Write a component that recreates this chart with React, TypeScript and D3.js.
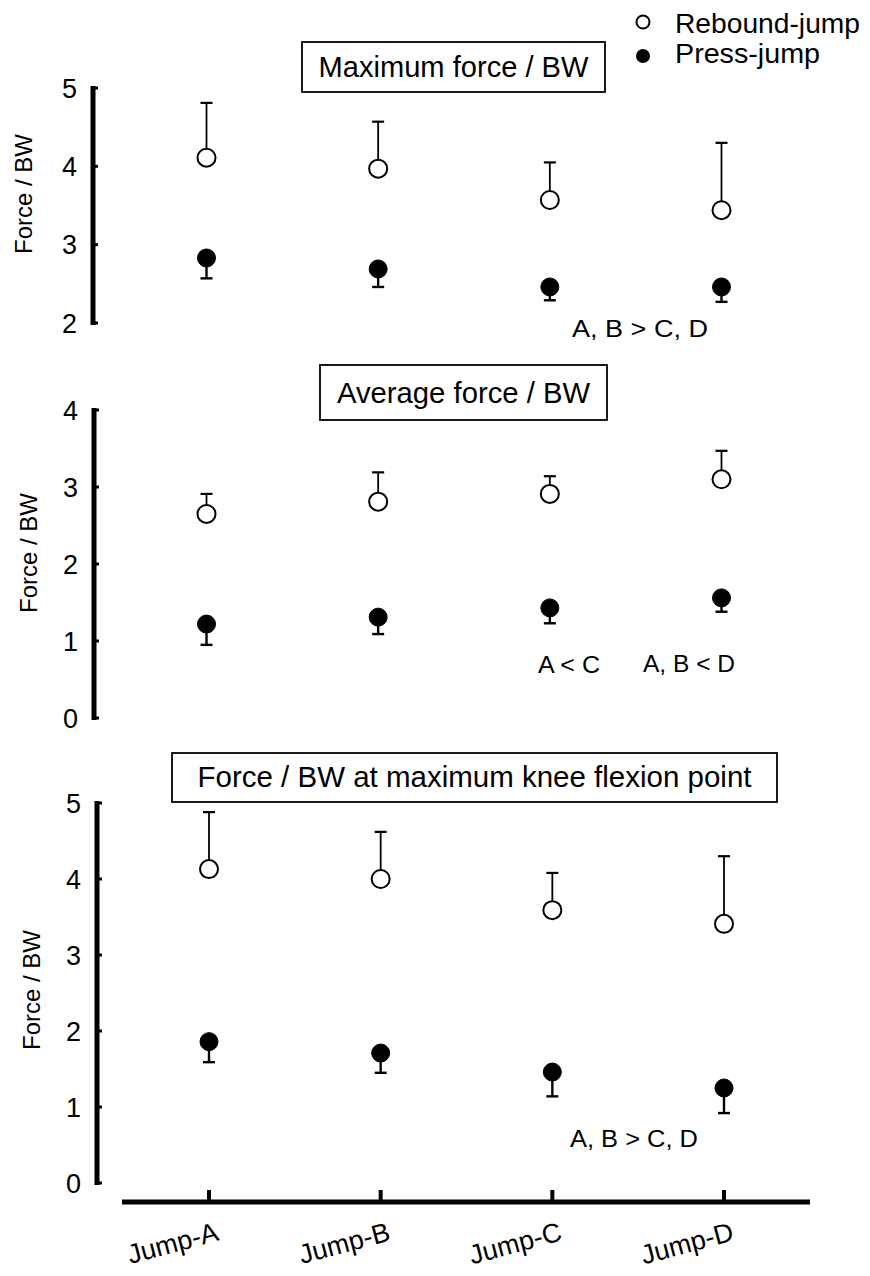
import React from "react";
import * as d3 from "d3";

const categories = ["Jump-A", "Jump-B", "Jump-C", "Jump-D"];

// Panel 1: Maximum force / BW
const maxReboundMean = [4.11, 3.97, 3.57, 3.44];
const maxReboundSD = [0.7, 0.6, 0.48, 0.86];
const maxPressMean = [2.83, 2.69, 2.46, 2.46];
const maxPressSD = [0.26, 0.23, 0.17, 0.19];
const maxTicks = [2, 3, 4, 5];

// Panel 2: Average force / BW
const avgReboundMean = [2.65, 2.81, 2.91, 3.1];
const avgReboundSD = [0.26, 0.38, 0.23, 0.37];
const avgPressMean = [1.22, 1.31, 1.43, 1.56];
const avgPressSD = [0.27, 0.22, 0.2, 0.18];
const avgTicks = [0, 1, 2, 3, 4];

// Panel 3: Force / BW at maximum knee flexion point
const kneeReboundMean = [4.13, 4.0, 3.59, 3.41];
const kneeReboundSD = [0.75, 0.62, 0.49, 0.89];
const kneePressMean = [1.86, 1.71, 1.46, 1.25];
const kneePressSD = [0.27, 0.26, 0.32, 0.33];
const kneeTicks = [0, 1, 2, 3, 4, 5];

const legendLabels = ["Rebound-jump", "Press-jump"];
const FONT = "'Liberation Sans', Arial, Helvetica, sans-serif";

type Note = { text: string; x: number; y: number; w: number };

type PanelProps = {
  title: string;
  titleBox: [number, number, number, number];
  titleBaseline: number;
  titleWidth: number;
  domain: [number, number];
  yRange: [number, number];
  xRange: [number, number];
  axisX: number;
  ticks: number[];
  rMean: number[];
  rSD: number[];
  pMean: number[];
  pSD: number[];
  labelX: number;
  labelY: number;
  notes: Note[];
};

function Panel(p: PanelProps) {
  const y = d3.scaleLinear().domain(p.domain).range(p.yRange);
  const x = d3.scalePoint<string>().domain(categories).range(p.xRange);
  const [bx, by, bw, bh] = p.titleBox;
  const cap = 6;
  const r = 9;
  return (
    <g>
      <rect x={bx} y={by} width={bw} height={bh} fill="white" stroke="black" strokeWidth={1.8} />
      <text
        x={bx + bw / 2}
        y={p.titleBaseline}
        textAnchor="middle"
        fontSize={29}
        fontFamily={FONT}
        textLength={p.titleWidth}
        lengthAdjust="spacingAndGlyphs"
      >
        {p.title}
      </text>
      {/* y axis */}
      <line x1={p.axisX} x2={p.axisX} y1={y(p.domain[0]) + 2} y2={y(p.domain[1]) - 2} stroke="black" strokeWidth={5} />
      {p.ticks.map((t) => (
        <g key={t}>
          <line x1={p.axisX} x2={p.axisX + 5} y1={y(t)} y2={y(t)} stroke="black" strokeWidth={3} />
          <text x={p.axisX - 16} y={y(t)} dy="0.36em" textAnchor="end" fontSize={27} fontFamily={FONT}>
            {t}
          </text>
        </g>
      ))}
      <text
        transform={`translate(${p.labelX},${p.labelY}) rotate(-90)`}
        textAnchor="middle"
        fontSize={24}
        fontFamily={FONT}
      >
        Force / BW
      </text>
      {/* rebound: error up, open circle */}
      {categories.map((c, i) => {
        const cx = x(c) as number;
        const cy = y(p.rMean[i]);
        const top = y(p.rMean[i] + p.rSD[i]);
        return (
          <g key={"r" + c}>
            <line x1={cx} x2={cx} y1={cy - r} y2={top} stroke="black" strokeWidth={1.8} />
            <line x1={cx - cap} x2={cx + cap} y1={top} y2={top} stroke="black" strokeWidth={2.2} />
            <circle cx={cx} cy={cy} r={r} fill="white" stroke="black" strokeWidth={2} />
          </g>
        );
      })}
      {/* press: error down, filled circle */}
      {categories.map((c, i) => {
        const cx = x(c) as number;
        const cy = y(p.pMean[i]);
        const bot = y(p.pMean[i] - p.pSD[i]);
        return (
          <g key={"p" + c}>
            <line x1={cx} x2={cx} y1={cy} y2={bot} stroke="black" strokeWidth={2.4} />
            <line x1={cx - cap} x2={cx + cap} y1={bot} y2={bot} stroke="black" strokeWidth={2.4} />
            <circle cx={cx} cy={cy} r={r} fill="black" stroke="black" strokeWidth={1} />
          </g>
        );
      })}
      {p.notes.map((n) => (
        <text
          key={n.text + n.x}
          x={n.x}
          y={n.y}
          fontSize={24}
          fontFamily={FONT}
          textLength={n.w}
          lengthAdjust="spacingAndGlyphs"
        >
          {n.text}
        </text>
      ))}
    </g>
  );
}

export default function App() {
  const xBottom = d3.scalePoint<string>().domain(categories).range([209, 724]);
  const axisY = 1202;
  return (
    <svg
      width={870}
      height={1276}
      style={{ position: "absolute", left: 0, top: 0, background: "white" }}
    >
      <rect x={0} y={0} width={870} height={1276} fill="white" />
      {/* legend */}
      <circle cx={643} cy={22} r={6.5} fill="white" stroke="black" strokeWidth={2} />
      <circle cx={643} cy={56} r={7} fill="black" />
      <text x={675} y={33} fontSize={27} fontFamily={FONT} textLength={185} lengthAdjust="spacingAndGlyphs">
        {legendLabels[0]}
      </text>
      <text x={675} y={63} fontSize={27} fontFamily={FONT} textLength={145} lengthAdjust="spacingAndGlyphs">
        {legendLabels[1]}
      </text>

      <Panel
        title="Maximum force / BW"
        titleBox={[302, 42, 303, 50]}
        titleBaseline={77}
        titleWidth={270}
        domain={[2, 5]}
        yRange={[323, 88]}
        xRange={[206.5, 721.5]}
        axisX={93}
        ticks={maxTicks}
        rMean={maxReboundMean}
        rSD={maxReboundSD}
        pMean={maxPressMean}
        pSD={maxPressSD}
        labelX={32}
        labelY={194}
        notes={[{ text: "A, B > C, D", x: 572, y: 337, w: 136 }]}
      />
      <Panel
        title="Average force / BW"
        titleBox={[320, 365, 287, 55]}
        titleBaseline={403}
        titleWidth={253}
        domain={[0, 4]}
        yRange={[718, 410]}
        xRange={[206.5, 721.5]}
        axisX={94}
        ticks={avgTicks}
        rMean={avgReboundMean}
        rSD={avgReboundSD}
        pMean={avgPressMean}
        pSD={avgPressSD}
        labelX={37}
        labelY={553}
        notes={[
          { text: "A < C", x: 538, y: 673, w: 62 },
          { text: "A, B < D", x: 643, y: 672, w: 92 },
        ]}
      />
      <Panel
        title="Force / BW at maximum knee flexion point"
        titleBox={[172, 753, 605, 49]}
        titleBaseline={787}
        titleWidth={554}
        domain={[0, 5]}
        yRange={[1183, 803]}
        xRange={[209, 724]}
        axisX={97}
        ticks={kneeTicks}
        rMean={kneeReboundMean}
        rSD={kneeReboundSD}
        pMean={kneePressMean}
        pSD={kneePressSD}
        labelX={40}
        labelY={990}
        notes={[{ text: "A, B > C, D", x: 570, y: 1147, w: 128 }]}
      />

      {/* x axis */}
      <line x1={122} x2={810} y1={axisY} y2={axisY} stroke="black" strokeWidth={5} />
      {categories.map((c) => {
        const cx = xBottom(c) as number;
        return (
          <g key={c}>
            <line x1={cx} x2={cx} y1={axisY} y2={axisY - 12} stroke="black" strokeWidth={4} />
            <text
              transform={`translate(${cx + 11},${1240}) rotate(-15)`}
              textAnchor="end"
              fontSize={27}
              fontFamily={FONT}
            >
              {c}
            </text>
          </g>
        );
      })}
    </svg>
  );
}
